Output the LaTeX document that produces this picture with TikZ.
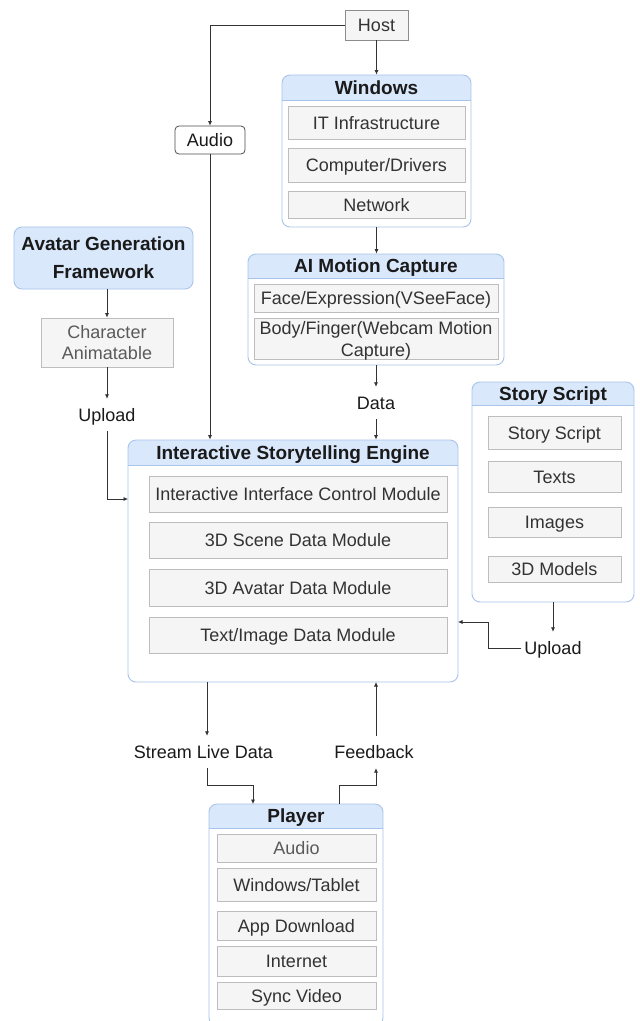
\documentclass[tikz,border=0pt]{standalone}
\usepackage{fontspec}
\setmainfont{Liberation Sans}
\usetikzlibrary{arrows.meta,fit,calc}
\definecolor{hdr}{HTML}{DAE8FC}
\definecolor{hdrln}{HTML}{A9C4EB}
\definecolor{gfill}{HTML}{F5F5F5}
\definecolor{gline}{HTML}{BDBDBD}
\definecolor{txt}{HTML}{1A1A1A}
\definecolor{gtxt}{HTML}{333333}
\definecolor{ltxt}{HTML}{5A5A5A}
\definecolor{arrc}{HTML}{333333}
\tikzset{
  every node/.style={font=\fontsize{18}{22}\selectfont, text=txt, inner sep=0pt},
  gbox/.style={draw=gline, fill=gfill, line width=0.8pt, text=gtxt, text height=13pt, text depth=0pt},
  cont/.style={draw=hdrln, line width=0.9pt, rounded corners=8pt},
  ttl/.style={font=\bfseries\fontsize{19}{22}\selectfont, text height=13.6pt, text depth=0pt},
  lbl/.style={text height=13pt, text depth=0pt, minimum height=32pt, inner xsep=3pt},
  arr/.style={draw=arrc, line width=0.7pt, -{Latex[length=4.5pt,width=4pt]}},
}
\newcommand{\gbx}[7][]{%
  \node[gbox,#1, minimum width={(#5-#3)*1pt}, minimum height={(#6-#4)*1pt}] (#2) at ({(#3+#5)/2},{(#4+#6)/2}) {#7};}
\newcommand{\cbox}[7]{%
  \begin{scope}
    \clip[rounded corners=8pt] (#2,#3) rectangle (#4,#5);
    \fill[hdr] (#2,#3) rectangle (#4,#6);
  \end{scope}
  \draw[hdrln, line width=0.9pt] (#2,#6) -- (#4,#6);
  \node[cont, fit={(#2,#3) (#4,#5)}] (#1) {};
  \node[ttl] (#1t) at ({(#2+#4)/2},{(#3+#6)/2}) {#7};}
\begin{document}
\begin{tikzpicture}[x=1pt,y=-1pt]
\useasboundingbox[fill=white] (0,0) rectangle (640,1021);

% Host and Audio
\gbx[draw=black!45]{host}{345}{10}{408}{40}{Host}
\node[draw=black!70, fill=white, rounded corners=4pt, line width=0.8pt, minimum width=70pt, minimum height=28pt, text height=13pt, text depth=0pt] (audio) at (210,140) {Audio};

% Windows
\cbox{win}{282}{75}{471}{227}{100}{Windows}
\gbx{it}{288}{106}{465}{139}{IT Infrastructure}
\gbx{comp}{288}{148}{465}{182}{Computer/Drivers}
\gbx{net}{288}{191}{465}{218}{Network}

% AI Motion Capture
\cbox{aimc}{248}{254}{504}{365}{278}{AI Motion Capture}
\gbx{face}{254}{284}{498}{312}{Face/Expression(VSeeFace)}
\gbx[align=center, text height=35pt, text depth=0pt]{body}{254}{318}{498}{359}{Body/Finger(Webcam Motion\\Capture)}
\node[lbl] (data) at (376,403) {Data};

% Avatar generation
\node[draw=hdrln, fill=hdr, rounded corners=8pt, line width=0.9pt, minimum width=179pt, minimum height=62pt, align=center, font=\bfseries\fontsize{19}{28}\selectfont, text height=41.6pt, text depth=0pt] (agf) at (103.5,258) {Avatar Generation\\Framework};
\gbx[align=center, text=ltxt, font=\fontsize{18}{21}\selectfont, text height=34pt, text depth=0pt]{char}{41}{318}{173}{367}{Character\\Animatable}
\node[lbl] (up1) at (107,415) {Upload};

% Story script
\cbox{story}{472}{382}{634}{602}{405}{Story Script}
\gbx{ss}{488}{416}{621}{449}{Story Script}
\gbx{texts}{488}{461}{621}{492}{Texts}
\gbx{images}{488}{507}{621}{537}{Images}
\gbx{models}{488}{556}{621}{582}{3D Models}
\node[lbl] (up2) at (553,648) {Upload};

% Engine
\cbox{eng}{128}{440}{458}{682}{465}{Interactive Storytelling Engine}
\gbx{iicm}{149}{476}{447}{512}{Interactive Interface Control Module}
\gbx{scene}{149}{522}{447}{558}{3D Scene Data Module}
\gbx{avatar}{149}{569}{447}{606}{3D Avatar Data Module}
\gbx{tidm}{149}{617}{447}{653}{Text/Image Data Module}

% Labels between engine and player
\node[lbl] (sld) at (203.5,752) {Stream Live Data};
\node[lbl] (fb) at (374,752) {Feedback};

% Player
\cbox{pl}{209}{804}{383}{1026}{828}{Player}
\gbx[text=ltxt]{paudio}{217}{834}{376}{862}{Audio}
\gbx{wt}{217}{868}{376}{901}{Windows/Tablet}
\gbx{app}{217}{911}{376}{940}{App Download}
\gbx{inet}{217}{946}{376}{976}{Internet}
\gbx{sync}{217}{982}{376}{1009}{Sync Video}

% coordinates
\coordinate (engL) at (128,499);
\coordinate (engR) at (458,622);
\coordinate (sj) at (488,622);
\coordinate (engB1) at (207,682);
\coordinate (engB2) at (376,682);
\coordinate (j1) at (207,785);
\coordinate (j2) at (376,785);
\coordinate (plT1) at (253,804);
\coordinate (plT2) at (339,804);

% connectors
\draw[arr] (host.west) -| (audio.north);
\draw[arr] (host.south) -- (win.north);
\draw[arr] (win.south) -- (win.south |- aimc.north);
\draw[arr] (aimc.south) -- (aimc.south |- data.north);
\draw[arr] (data.south) -- (data.south |- eng.north);
\draw[arr] (audio.south) -- (audio.south |- eng.north);
\draw[arr] (char.north |- agf.south) -- (char.north);
\draw[arr] (char.south) -- (up1.north);
\draw[arr] (up1.south) |- (engL);
\draw[arr] (story.south) -- (story.south |- up2.north);
\draw[arr] (up2.west) -| (sj) -- (engR);
\draw[arr] (engB1) -- (engB1 |- sld.north);
\draw[arr] (engB1 |- sld.south) -- (j1) -| (plT1);
\draw[arr] (plT2) |- (j2) -- (j2 |- fb.south);
\draw[arr] (engB2 |- fb.north) -- (engB2);
\end{tikzpicture}
\end{document}
